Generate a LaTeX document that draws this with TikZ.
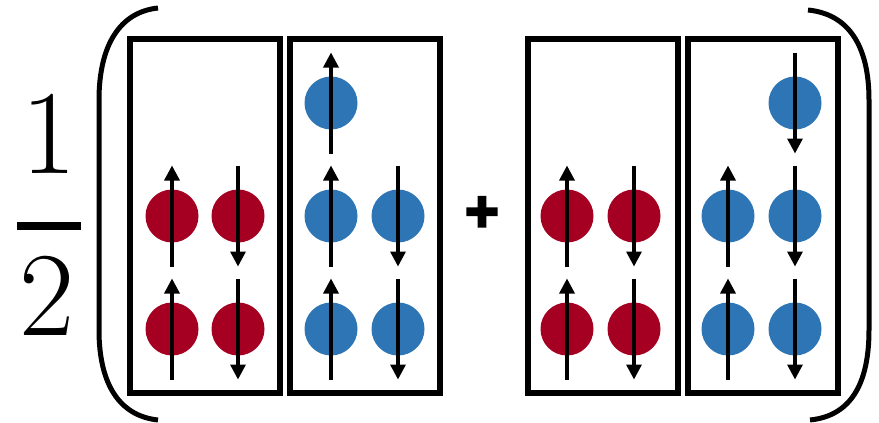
\documentclass[tikz,border=0pt]{standalone}
\usepackage{fontspec}
\usepackage{tikz}
\usetikzlibrary{arrows.meta,positioning}
\newfontfamily\plusfont[FakeBold=4]{Liberation Sans Bold}
\definecolor{orbred}{HTML}{A50021}
\definecolor{orbblue}{HTML}{2E75B6}
\tikzset{
  statebox/.style={
    draw=black,
    line width=5.5pt,
    minimum width=150pt,
    minimum height=354pt,
    inner sep=0pt,
    outer sep=0pt
  },
  redorb/.style={
    circle,
    fill=orbred,
    minimum size=53pt,
    inner sep=0pt
  },
  blueorb/.style={
    circle,
    fill=orbblue,
    minimum size=53pt,
    inner sep=0pt
  },
  spin/.style={
    -{Triangle[length=15pt,width=15pt]},
    line width=3.3pt
  },
  bracket/.style={
    line width=5pt
  },
  digit/.style={
    font=\fontsize{120}{120}\selectfont,
    anchor=base,
    inner sep=0pt
  }
}

\begin{document}
\begin{tikzpicture}[x=1pt,y=-1pt]
\useasboundingbox (0,0) rectangle (879,423);
% one half
\node[digit] (one) at (49.5,173) {1};
\node[digit] (two) at (47.5,335) {2};
\draw[line width=8pt] (17,226) -- (81,226);
% brackets
\draw[bracket] (158,8) .. controls (120,12) and (99,45) .. (99,100)
  -- (99,330) .. controls (99,385) and (120,416) .. (158,420);
\draw[bracket] (808,10) .. controls (848,14) and (869,45) .. (869,100)
  -- (869,330) .. controls (869,385) and (850,416) .. (810,420);
% boxes
\node[statebox] (boxA) at (205,216) {};
\node[statebox, right=10pt of boxA] (boxB) {};
\node[statebox, right=88pt of boxB] (boxC) {};
\node[statebox, right=10pt of boxC] (boxD) {};
\node[font=\plusfont\fontsize{58}{58}\selectfont, inner sep=0pt] (plus) at (482,214) {+};
% first term
\node[redorb] (a21) at (172,216) {};
\node[redorb] (a22) at (238,216) {};
\node[redorb] (a31) at (172,329) {};
\node[redorb] (a32) at (238,329) {};
\node[blueorb] (b11) at (331,103) {};
\node[blueorb] (b21) at (331,216) {};
\node[blueorb] (b22) at (398,216) {};
\node[blueorb] (b31) at (331,329) {};
\node[blueorb] (b32) at (398,329) {};
% second term
\node[redorb] (c21) at (567,216) {};
\node[redorb] (c22) at (634,216) {};
\node[redorb] (c31) at (567,329) {};
\node[redorb] (c32) at (634,329) {};
\node[blueorb] (d12) at (795,103) {};
\node[blueorb] (d21) at (728,216) {};
\node[blueorb] (d22) at (795,216) {};
\node[blueorb] (d31) at (728,329) {};
\node[blueorb] (d32) at (795,329) {};
% spins
\draw[spin] ([yshift=-50.5pt]a21.center) -- ([yshift=50.5pt]a21.center);
\draw[spin] ([yshift=50.5pt]a22.center) -- ([yshift=-50.5pt]a22.center);
\draw[spin] ([yshift=-50.5pt]a31.center) -- ([yshift=50.5pt]a31.center);
\draw[spin] ([yshift=50.5pt]a32.center) -- ([yshift=-50.5pt]a32.center);
\draw[spin] ([yshift=-50.5pt]b11.center) -- ([yshift=50.5pt]b11.center);
\draw[spin] ([yshift=-50.5pt]b21.center) -- ([yshift=50.5pt]b21.center);
\draw[spin] ([yshift=50.5pt]b22.center) -- ([yshift=-50.5pt]b22.center);
\draw[spin] ([yshift=-50.5pt]b31.center) -- ([yshift=50.5pt]b31.center);
\draw[spin] ([yshift=50.5pt]b32.center) -- ([yshift=-50.5pt]b32.center);
\draw[spin] ([yshift=-50.5pt]c21.center) -- ([yshift=50.5pt]c21.center);
\draw[spin] ([yshift=50.5pt]c22.center) -- ([yshift=-50.5pt]c22.center);
\draw[spin] ([yshift=-50.5pt]c31.center) -- ([yshift=50.5pt]c31.center);
\draw[spin] ([yshift=50.5pt]c32.center) -- ([yshift=-50.5pt]c32.center);
\draw[spin] ([yshift=50.5pt]d12.center) -- ([yshift=-50.5pt]d12.center);
\draw[spin] ([yshift=-50.5pt]d21.center) -- ([yshift=50.5pt]d21.center);
\draw[spin] ([yshift=50.5pt]d22.center) -- ([yshift=-50.5pt]d22.center);
\draw[spin] ([yshift=-50.5pt]d31.center) -- ([yshift=50.5pt]d31.center);
\draw[spin] ([yshift=50.5pt]d32.center) -- ([yshift=-50.5pt]d32.center);
\end{tikzpicture}
\end{document}
